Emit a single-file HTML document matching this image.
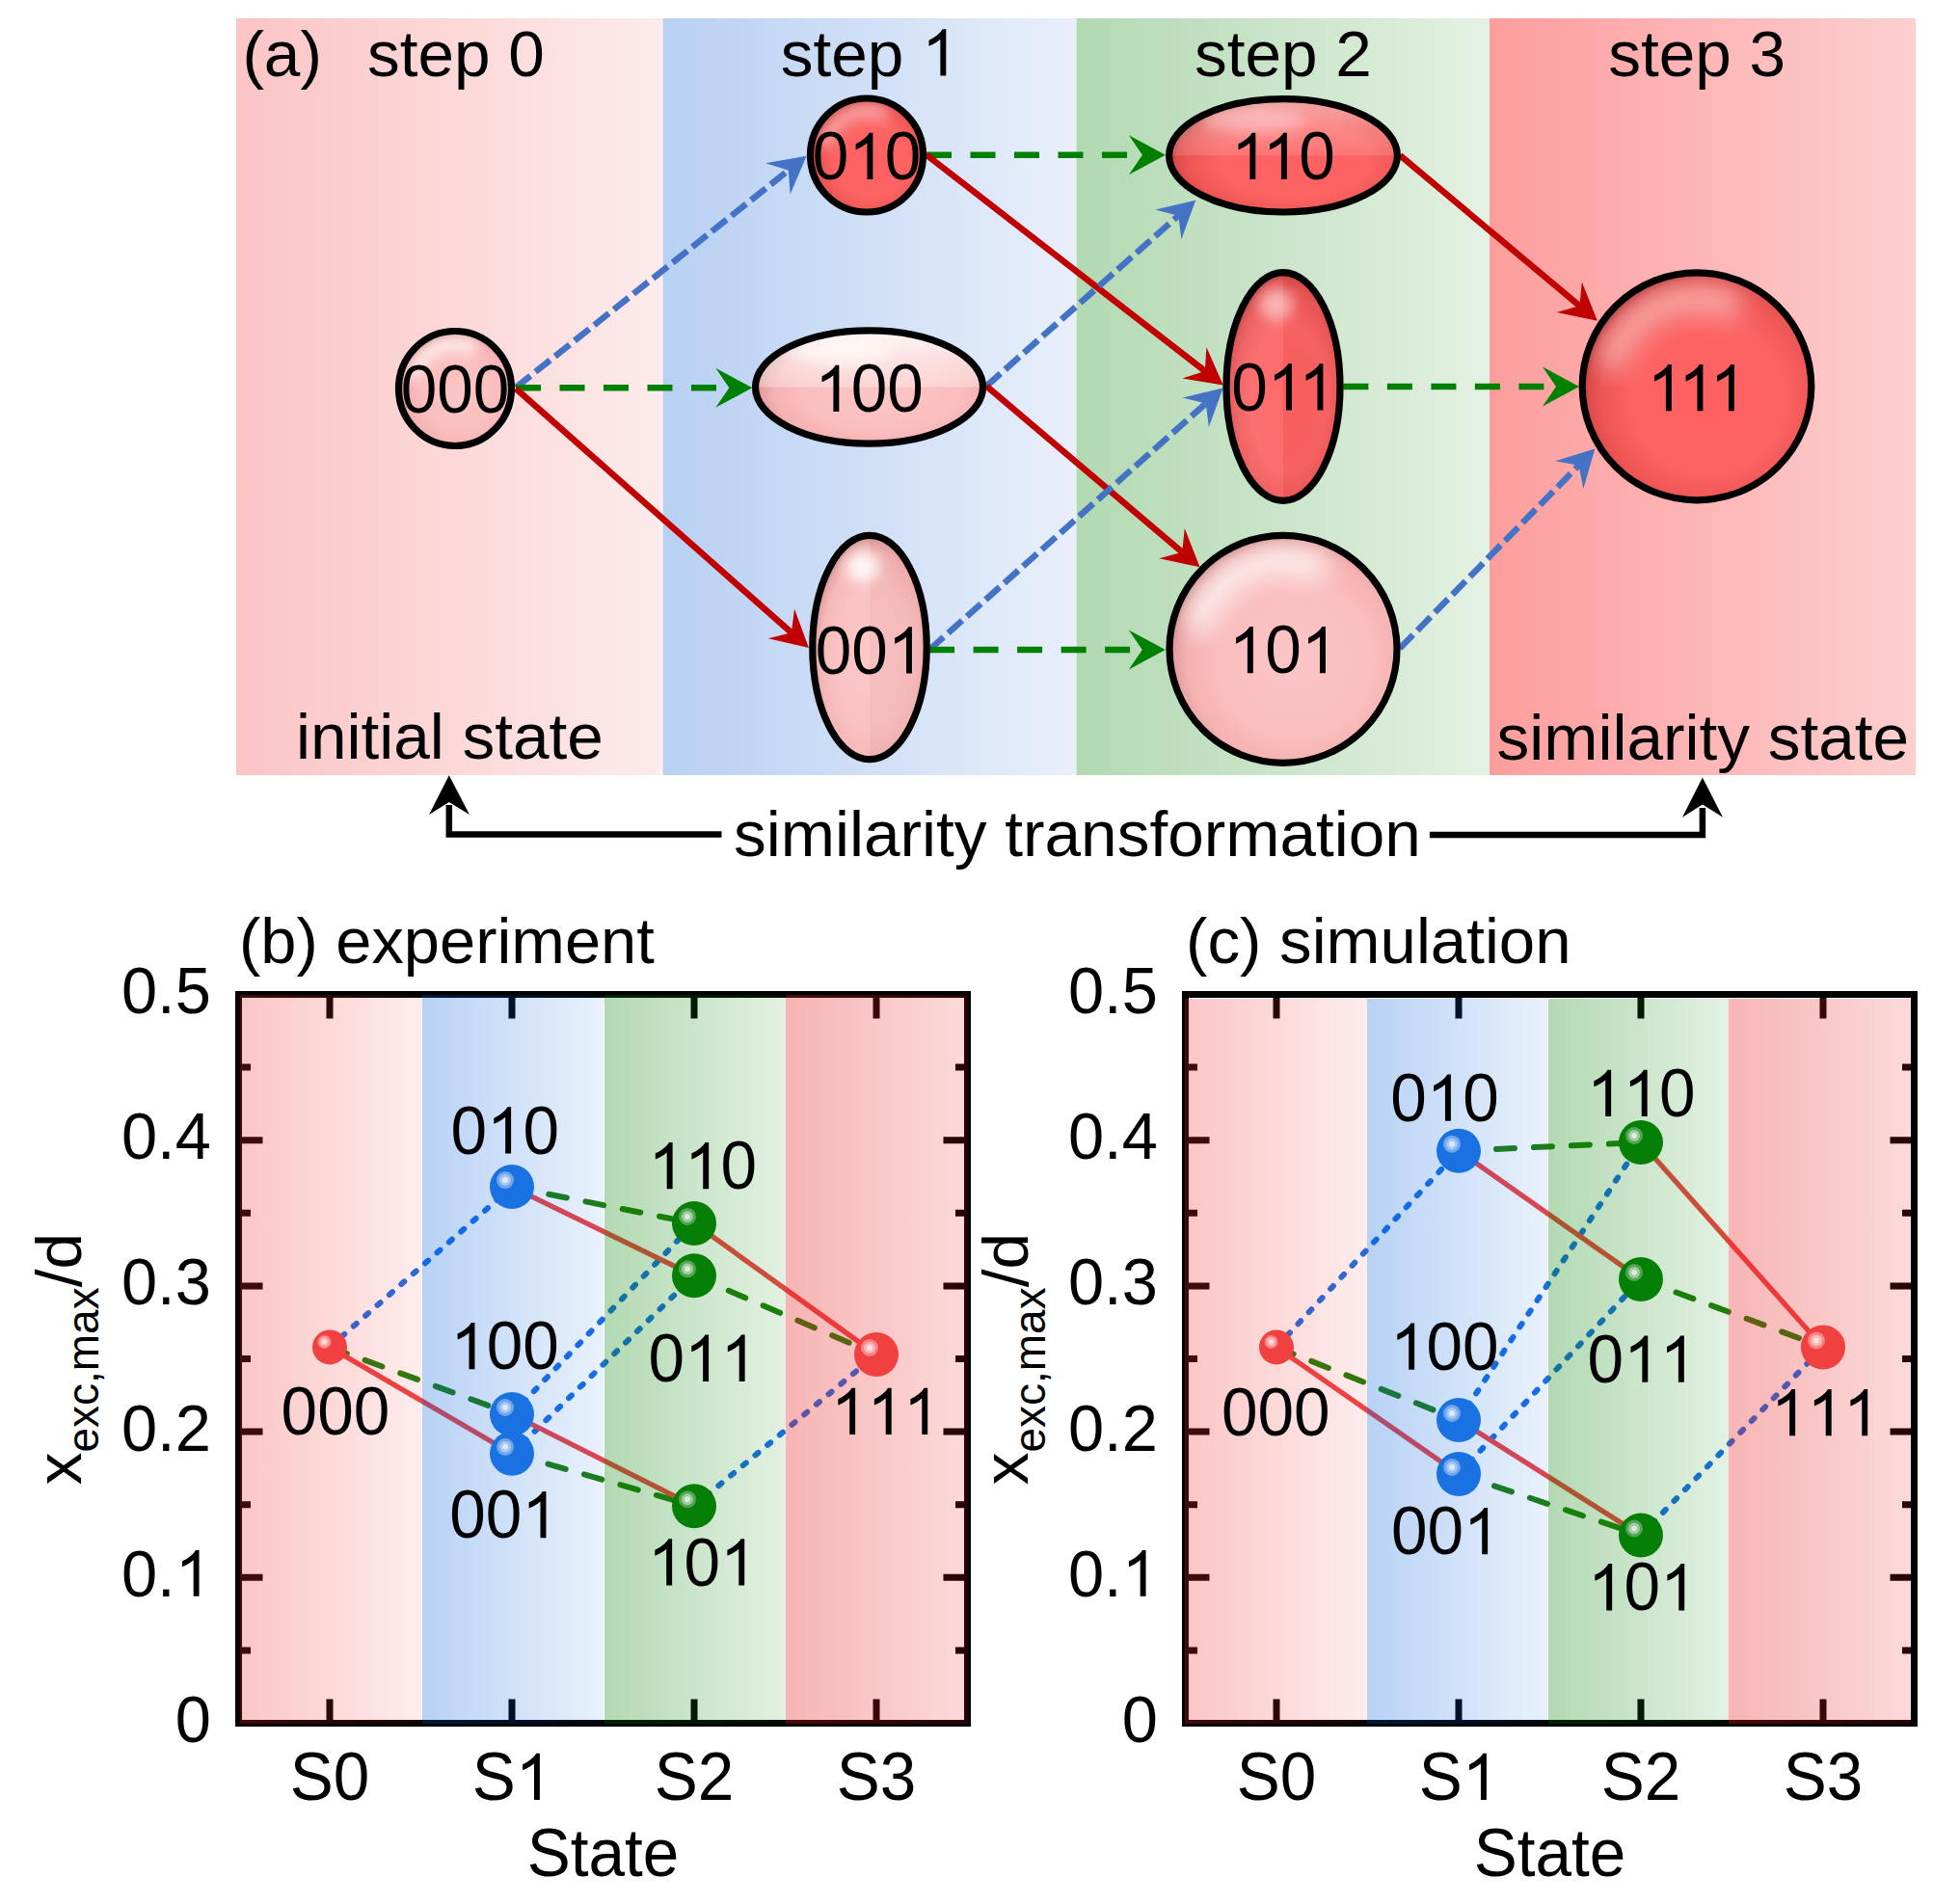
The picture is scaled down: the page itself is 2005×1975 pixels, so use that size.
<!DOCTYPE html><html><head><meta charset="utf-8"><style>html,body{margin:0;padding:0;background:#fff;}svg{display:block}text{font-family:"Liberation Sans",sans-serif;}</style></head><body>
<svg xmlns="http://www.w3.org/2000/svg" width="2005" height="1975" viewBox="0 0 2005 1975">
<rect width="2005" height="1975" fill="#fff"/>
<defs>
<linearGradient id="tb0" x1="0" y1="0" x2="1" y2="0"><stop offset="0" stop-color="#fbc4c5"/><stop offset="1" stop-color="#fdebeb"/></linearGradient>
<linearGradient id="tb1" x1="0" y1="0" x2="1" y2="0"><stop offset="0" stop-color="#b8d0f2"/><stop offset="1" stop-color="#e9effb"/></linearGradient>
<linearGradient id="tb2" x1="0" y1="0" x2="1" y2="0"><stop offset="0" stop-color="#b2d9b2"/><stop offset="1" stop-color="#e4f1e3"/></linearGradient>
<linearGradient id="tb3" x1="0" y1="0" x2="1" y2="0"><stop offset="0" stop-color="#fd9d9d"/><stop offset="1" stop-color="#fdcfcf"/></linearGradient>
<linearGradient id="cb0" x1="0" y1="0" x2="1" y2="0"><stop offset="0" stop-color="#f02a2a" stop-opacity="0.27"/><stop offset="1" stop-color="#f02a2a" stop-opacity="0.085"/></linearGradient>
<linearGradient id="cb1" x1="0" y1="0" x2="1" y2="0"><stop offset="0" stop-color="#005edb" stop-opacity="0.28"/><stop offset="1" stop-color="#005edb" stop-opacity="0.086"/></linearGradient>
<linearGradient id="cb2" x1="0" y1="0" x2="1" y2="0"><stop offset="0" stop-color="#008000" stop-opacity="0.3"/><stop offset="1" stop-color="#008000" stop-opacity="0.11"/></linearGradient>
<linearGradient id="cb3" x1="0" y1="0" x2="1" y2="0"><stop offset="0" stop-color="#e81e1e" stop-opacity="0.33"/><stop offset="1" stop-color="#e81e1e" stop-opacity="0.165"/></linearGradient>
<radialGradient id="gl" cx="0.55" cy="0.55" r="0.55"><stop offset="0" stop-color="#fcc6c6"/><stop offset="0.6" stop-color="#fbbebe"/><stop offset="0.85" stop-color="#f5b2b2"/><stop offset="0.95" stop-color="#e6a0a0"/><stop offset="1" stop-color="#d08a8a"/></radialGradient>
<radialGradient id="gd" cx="0.55" cy="0.55" r="0.55"><stop offset="0" stop-color="#ff6060"/><stop offset="0.6" stop-color="#fc6464"/><stop offset="0.85" stop-color="#ee5656"/><stop offset="0.95" stop-color="#dc4a4a"/><stop offset="1" stop-color="#b83a3a"/></radialGradient>
<linearGradient id="hlL" x1="0" y1="0" x2="0" y2="1"><stop offset="0" stop-color="#fff" stop-opacity="0.95"/><stop offset="0.5" stop-color="#fff" stop-opacity="0.55"/><stop offset="1" stop-color="#fff" stop-opacity="0.3"/></linearGradient>
<linearGradient id="hlD" x1="0" y1="0" x2="0" y2="1"><stop offset="0" stop-color="#ffe0e0" stop-opacity="0.6"/><stop offset="0.5" stop-color="#fff" stop-opacity="0.25"/><stop offset="1" stop-color="#fff" stop-opacity="0.12"/></linearGradient>
<linearGradient id="vl" x1="0" y1="0" x2="1" y2="0"><stop offset="0" stop-color="#fff" stop-opacity="0.10"/><stop offset="1" stop-color="#fff" stop-opacity="0.06"/></linearGradient>
<filter id="blur8" x="-50%" y="-50%" width="200%" height="200%"><feGaussianBlur stdDeviation="7"/></filter>
<filter id="blur12" x="-50%" y="-50%" width="200%" height="200%"><feGaussianBlur stdDeviation="13"/></filter>
<filter id="blur4" x="-50%" y="-50%" width="200%" height="200%"><feGaussianBlur stdDeviation="4"/></filter>
</defs>
<rect x="245" y="19" width="441.5" height="785" fill="url(#tb0)"/>
<rect x="687.5" y="19" width="428.5" height="785" fill="url(#tb1)"/>
<rect x="1116.5" y="19" width="428.5" height="785" fill="url(#tb2)"/>
<rect x="1545" y="19" width="442" height="785" fill="url(#tb3)"/>
<line x1="535.0" y1="402.0" x2="817.8" y2="176.7" stroke="#4472c4" stroke-width="6.5" stroke-dasharray="19.5 6.5"/>
<path d="M0 0L-38 -20.5L-24 0L-38 20.5Z" fill="#4472c4" transform="translate(836.6 161.7) rotate(-38.55)"/>
<line x1="535.0" y1="402.3" x2="756.3" y2="402.3" stroke="#008000" stroke-width="6.5" stroke-dasharray="26 19.5"/>
<path d="M0 0L-38 -20.5L-24 0L-38 20.5Z" fill="#008000" transform="translate(780.3 402.3) rotate(0.00)"/>
<line x1="535.0" y1="403.0" x2="820.9" y2="656.2" stroke="#c00000" stroke-width="6.5"/>
<path d="M0 0L-38 -20.5L-24 0L-38 20.5Z" fill="#c00000" transform="translate(838.9 672.1) rotate(41.52)"/>
<line x1="961.0" y1="160.7" x2="1184.9" y2="160.7" stroke="#008000" stroke-width="6.5" stroke-dasharray="26 19.5"/>
<path d="M0 0L-38 -20.5L-24 0L-38 20.5Z" fill="#008000" transform="translate(1208.9 160.7) rotate(0.00)"/>
<line x1="961.0" y1="160.7" x2="1249.8" y2="384.9" stroke="#c00000" stroke-width="6.5"/>
<path d="M0 0L-38 -20.5L-24 0L-38 20.5Z" fill="#c00000" transform="translate(1268.8 399.6) rotate(37.82)"/>
<line x1="1023.2" y1="400.5" x2="1222.3" y2="223.6" stroke="#4472c4" stroke-width="6.5" stroke-dasharray="19.5 6.5"/>
<path d="M0 0L-38 -20.5L-24 0L-38 20.5Z" fill="#4472c4" transform="translate(1240.2 207.7) rotate(-41.62)"/>
<line x1="1023.2" y1="400.5" x2="1226.2" y2="572.7" stroke="#c00000" stroke-width="6.5"/>
<path d="M0 0L-38 -20.5L-24 0L-38 20.5Z" fill="#c00000" transform="translate(1244.5 588.2) rotate(40.30)"/>
<line x1="964.1" y1="673.9" x2="1250.7" y2="418.5" stroke="#4472c4" stroke-width="6.5" stroke-dasharray="19.5 6.5"/>
<path d="M0 0L-38 -20.5L-24 0L-38 20.5Z" fill="#4472c4" transform="translate(1268.6 402.5) rotate(-41.71)"/>
<line x1="964.1" y1="673.9" x2="1184.8" y2="673.9" stroke="#008000" stroke-width="6.5" stroke-dasharray="26 19.5"/>
<path d="M0 0L-38 -20.5L-24 0L-38 20.5Z" fill="#008000" transform="translate(1208.8 673.9) rotate(0.00)"/>
<line x1="1452.3" y1="161.3" x2="1638.4" y2="317.3" stroke="#c00000" stroke-width="6.5"/>
<path d="M0 0L-38 -20.5L-24 0L-38 20.5Z" fill="#c00000" transform="translate(1656.8 332.7) rotate(39.97)"/>
<line x1="1393.4" y1="401.0" x2="1614.0" y2="401.0" stroke="#008000" stroke-width="6.5" stroke-dasharray="26 19.5"/>
<path d="M0 0L-38 -20.5L-24 0L-38 20.5Z" fill="#008000" transform="translate(1638.0 401.0) rotate(0.00)"/>
<line x1="1452.0" y1="672.5" x2="1637.5" y2="482.7" stroke="#4472c4" stroke-width="6.5" stroke-dasharray="19.5 6.5"/>
<path d="M0 0L-38 -20.5L-24 0L-38 20.5Z" fill="#4472c4" transform="translate(1654.3 465.5) rotate(-45.66)"/>
<clipPath id="ec1"><ellipse cx="472" cy="403" rx="58.5" ry="59.5"/></clipPath>
<ellipse cx="472" cy="403" rx="58.5" ry="59.5" fill="url(#gl)"/>
<g clip-path="url(#ec1)">
<path d="M429.1 387.1 A45.6 46.4 0 0 1 487.6 359.4" fill="none" stroke="#ffffff" stroke-width="15.2" stroke-linecap="round" opacity="0.765" filter="url(#blur8)"/>
</g>
<ellipse cx="472" cy="403" rx="58.5" ry="59.5" fill="none" stroke="#000" stroke-width="7.2"/>
<clipPath id="ec2"><ellipse cx="899" cy="161" rx="58.5" ry="59"/></clipPath>
<ellipse cx="899" cy="161" rx="58.5" ry="59" fill="url(#gd)"/>
<g clip-path="url(#ec2)">
<path d="M856.1 145.3 A45.6 46.0 0 0 1 914.6 117.8" fill="none" stroke="#ffe6e6" stroke-width="15.2" stroke-linecap="round" opacity="0.54" filter="url(#blur8)"/>
</g>
<ellipse cx="899" cy="161" rx="58.5" ry="59" fill="none" stroke="#000" stroke-width="7.2"/>
<clipPath id="ec3"><ellipse cx="901.5" cy="401.5" rx="118" ry="58.7"/></clipPath>
<ellipse cx="901.5" cy="401.5" rx="118" ry="58.7" fill="url(#gl)"/>
<g clip-path="url(#ec3)">
<rect x="783.5" y="342.8" width="236" height="58.7" fill="url(#hlL)"/>
<ellipse cx="872" cy="365.106" rx="53.1" ry="12.914" fill="#ffffff" opacity="0.595" filter="url(#blur8)"/>
</g>
<ellipse cx="901.5" cy="401.5" rx="118" ry="58.7" fill="none" stroke="#000" stroke-width="7.2"/>
<clipPath id="ec4"><ellipse cx="902" cy="671.5" rx="59.2" ry="116.2"/></clipPath>
<ellipse cx="902" cy="671.5" rx="59.2" ry="116.2" fill="url(#gl)"/>
<g clip-path="url(#ec4)">
<rect x="842.8" y="555.3" width="59.2" height="232.4" fill="url(#vl)"/>
<rect x="902" y="555.3" width="59.2" height="232.4" fill="#000" opacity="0.025"/>
<ellipse cx="894.896" cy="587.836" rx="17.76" ry="16.268" fill="#ffffff" opacity="0.85" filter="url(#blur8)"/>
</g>
<ellipse cx="902" cy="671.5" rx="59.2" ry="116.2" fill="none" stroke="#000" stroke-width="7.2"/>
<clipPath id="ec5"><ellipse cx="1331" cy="161.3" rx="118.4" ry="58.7"/></clipPath>
<ellipse cx="1331" cy="161.3" rx="118.4" ry="58.7" fill="url(#gd)"/>
<g clip-path="url(#ec5)">
<rect x="1212.6" y="102.6" width="236.8" height="58.7" fill="url(#hlD)"/>
<ellipse cx="1301.4" cy="124.906" rx="53.28" ry="12.914" fill="#ffe6e6" opacity="0.42" filter="url(#blur8)"/>
</g>
<ellipse cx="1331" cy="161.3" rx="118.4" ry="58.7" fill="none" stroke="#000" stroke-width="7.2"/>
<clipPath id="ec6"><ellipse cx="1331" cy="401" rx="59" ry="118.3"/></clipPath>
<ellipse cx="1331" cy="401" rx="59" ry="118.3" fill="url(#gd)"/>
<g clip-path="url(#ec6)">
<rect x="1272" y="282.7" width="59" height="236.6" fill="url(#vl)"/>
<rect x="1331" y="282.7" width="59" height="236.6" fill="#000" opacity="0.025"/>
<ellipse cx="1323.92" cy="315.824" rx="17.7" ry="16.562" fill="#ffe6e6" opacity="0.6" filter="url(#blur8)"/>
</g>
<ellipse cx="1331" cy="401" rx="59" ry="118.3" fill="none" stroke="#000" stroke-width="7.2"/>
<clipPath id="ec7"><ellipse cx="1331" cy="673.3" rx="118" ry="118"/></clipPath>
<ellipse cx="1331" cy="673.3" rx="118" ry="118" fill="url(#gl)"/>
<g clip-path="url(#ec7)">
<path d="M1244.5 641.8 A92.0 92.0 0 0 1 1362.5 586.8" fill="none" stroke="#ffffff" stroke-width="30.7" stroke-linecap="round" opacity="0.765" filter="url(#blur12)"/>
</g>
<ellipse cx="1331" cy="673.3" rx="118" ry="118" fill="none" stroke="#000" stroke-width="7.2"/>
<clipPath id="ec8"><ellipse cx="1760" cy="400.8" rx="118.8" ry="118"/></clipPath>
<ellipse cx="1760" cy="400.8" rx="118.8" ry="118" fill="url(#gd)"/>
<g clip-path="url(#ec8)">
<path d="M1672.9 369.3 A92.7 92.0 0 0 1 1791.7 314.3" fill="none" stroke="#ffe6e6" stroke-width="30.9" stroke-linecap="round" opacity="0.54" filter="url(#blur12)"/>
</g>
<ellipse cx="1760" cy="400.8" rx="118.8" ry="118" fill="none" stroke="#000" stroke-width="7.2"/>
<g transform="translate(415.69 428.00)"><text x="0.00 37.54 75.08" y="0" font-size="67.50" fill="#000" transform="scale(1 1.035)">000</text></g>
<g transform="translate(842.69 186.00)"><text x="0.00 37.54 75.08" y="0" font-size="67.50" fill="#000" transform="scale(1 1.035)">0 0</text><path d="M763 0L583 0L583 1147C540 1106 483 1064 413 1023C343 982 280 951 223 930L223 1118C324 1163 412 1217 489 1282C566 1347 620 1408 651 1466L763 1466Z" transform="translate(37.54 0) scale(0.03296 -0.03296)" fill="#000"/></g>
<g transform="translate(845.19 427.00)"><text x="0.00 37.54 75.08" y="0" font-size="67.50" fill="#000" transform="scale(1 1.035)"> 00</text><path d="M763 0L583 0L583 1147C540 1106 483 1064 413 1023C343 982 280 951 223 930L223 1118C324 1163 412 1217 489 1282C566 1347 620 1408 651 1466L763 1466Z" transform="translate(0.00 0) scale(0.03296 -0.03296)" fill="#000"/></g>
<g transform="translate(845.69 698.50)"><text x="0.00 37.54 75.08" y="0" font-size="67.50" fill="#000" transform="scale(1 1.035)">00 </text><path d="M763 0L583 0L583 1147C540 1106 483 1064 413 1023C343 982 280 951 223 930L223 1118C324 1163 412 1217 489 1282C566 1347 620 1408 651 1466L763 1466Z" transform="translate(75.08 0) scale(0.03296 -0.03296)" fill="#000"/></g>
<g transform="translate(1277.19 186.00)"><text x="0.00 32.53 70.07" y="0" font-size="67.50" fill="#000" transform="scale(1 1.035)">  0</text><path d="M763 0L583 0L583 1147C540 1106 483 1064 413 1023C343 982 280 951 223 930L223 1118C324 1163 412 1217 489 1282C566 1347 620 1408 651 1466L763 1466Z" transform="translate(0.00 0) scale(0.03296 -0.03296)" fill="#000"/><path d="M763 0L583 0L583 1147C540 1106 483 1064 413 1023C343 982 280 951 223 930L223 1118C324 1163 412 1217 489 1282C566 1347 620 1408 651 1466L763 1466Z" transform="translate(32.53 0) scale(0.03296 -0.03296)" fill="#000"/></g>
<g transform="translate(1277.19 425.50)"><text x="0.00 37.54 70.07" y="0" font-size="67.50" fill="#000" transform="scale(1 1.035)">0  </text><path d="M763 0L583 0L583 1147C540 1106 483 1064 413 1023C343 982 280 951 223 930L223 1118C324 1163 412 1217 489 1282C566 1347 620 1408 651 1466L763 1466Z" transform="translate(37.54 0) scale(0.03296 -0.03296)" fill="#000"/><path d="M763 0L583 0L583 1147C540 1106 483 1064 413 1023C343 982 280 951 223 930L223 1118C324 1163 412 1217 489 1282C566 1347 620 1408 651 1466L763 1466Z" transform="translate(70.07 0) scale(0.03296 -0.03296)" fill="#000"/></g>
<g transform="translate(1274.69 698.30)"><text x="0.00 37.54 75.08" y="0" font-size="67.50" fill="#000" transform="scale(1 1.035)"> 0 </text><path d="M763 0L583 0L583 1147C540 1106 483 1064 413 1023C343 982 280 951 223 930L223 1118C324 1163 412 1217 489 1282C566 1347 620 1408 651 1466L763 1466Z" transform="translate(0.00 0) scale(0.03296 -0.03296)" fill="#000"/><path d="M763 0L583 0L583 1147C540 1106 483 1064 413 1023C343 982 280 951 223 930L223 1118C324 1163 412 1217 489 1282C566 1347 620 1408 651 1466L763 1466Z" transform="translate(75.08 0) scale(0.03296 -0.03296)" fill="#000"/></g>
<g transform="translate(1708.70 426.30)"><text x="0.00 32.53 65.06" y="0" font-size="67.50" fill="#000" transform="scale(1 1.035)">   </text><path d="M763 0L583 0L583 1147C540 1106 483 1064 413 1023C343 982 280 951 223 930L223 1118C324 1163 412 1217 489 1282C566 1347 620 1408 651 1466L763 1466Z" transform="translate(0.00 0) scale(0.03296 -0.03296)" fill="#000"/><path d="M763 0L583 0L583 1147C540 1106 483 1064 413 1023C343 982 280 951 223 930L223 1118C324 1163 412 1217 489 1282C566 1347 620 1408 651 1466L763 1466Z" transform="translate(32.53 0) scale(0.03296 -0.03296)" fill="#000"/><path d="M763 0L583 0L583 1147C540 1106 483 1064 413 1023C343 982 280 951 223 930L223 1118C324 1163 412 1217 489 1282C566 1347 620 1408 651 1466L763 1466Z" transform="translate(65.06 0) scale(0.03296 -0.03296)" fill="#000"/></g>
<g transform="translate(251.40 78.50)"><text x="0.00 22.48 60.02" y="0" font-size="67.50" fill="#000" transform="scale(1 1.000)">(a)</text></g>
<g transform="translate(380.90 78.50)"><text x="0.00 33.75 52.50 90.04 127.58 146.34" y="0" font-size="67.50" fill="#000" transform="scale(1 1.000)">step 0</text></g>
<g transform="translate(809.80 78.50)"><text x="0.00 33.75 52.50 90.04 127.58 146.34" y="0" font-size="67.50" fill="#000" transform="scale(1 1.000)">step  </text><path d="M763 0L583 0L583 1147C540 1106 483 1064 413 1023C343 982 280 951 223 930L223 1118C324 1163 412 1217 489 1282C566 1347 620 1408 651 1466L763 1466Z" transform="translate(146.34 0) scale(0.03296 -0.03296)" fill="#000"/></g>
<g transform="translate(1239.00 78.50)"><text x="0.00 33.75 52.50 90.04 127.58 146.34" y="0" font-size="67.50" fill="#000" transform="scale(1 1.000)">step 2</text></g>
<g transform="translate(1668.20 78.50)"><text x="0.00 33.75 52.50 90.04 127.58 146.34" y="0" font-size="67.50" fill="#000" transform="scale(1 1.000)">step 3</text></g>
<g transform="translate(306.90 787.20)"><text x="0.00 15.00 52.54 67.53 86.29 101.28 138.82 153.82 172.57 206.32 225.08 262.62 281.37" y="0" font-size="67.50" fill="#000" transform="scale(1 1.000)">initial state</text></g>
<g transform="translate(1552.50 788.00)"><text x="0.00 33.75 48.75 104.98 119.97 134.97 172.51 194.99 209.98 228.74 262.49 281.24 314.99 333.74 371.28 390.04" y="0" font-size="67.50" fill="#000" transform="scale(1 1.000)">similarity state</text></g>
<g transform="translate(761.10 888.40)"><text x="0.00 33.75 48.75 104.98 119.97 134.97 172.51 194.99 209.98 228.74 262.49 281.24 299.99 322.47 360.01 397.55 431.30 450.06 487.60 510.08 566.30 603.85 622.60 637.60 675.14" y="0" font-size="67.50" fill="#000" transform="scale(1 1.000)">similarity transformation</text></g>
<path d="M748.5 865.5 L465.8 865.5 L465.8 835" fill="none" stroke="#000" stroke-width="6.5"/>
<path d="M465.8 804.3 L445 845 L465.8 832 L487 845 Z" fill="#000"/>
<path d="M1482.9 866 L1765.9 866 L1765.9 838" fill="none" stroke="#000" stroke-width="6.5"/>
<path d="M1765.9 806.6 L1745 847.7 L1765.9 834.5 L1787 847.7 Z" fill="#000"/>
<rect x="247.5" y="1031.5" width="756" height="756" fill="none" stroke="#000" stroke-width="7"/>
<path d="M342 1031.5 V1056.5 M342 1787.5 V1762.5 M531 1031.5 V1056.5 M531 1787.5 V1762.5 M720 1031.5 V1056.5 M720 1787.5 V1762.5 M909 1031.5 V1056.5 M909 1787.5 V1762.5 M247.5 1711.9 H260 M1003.5 1711.9 H991 M247.5 1636.3 H272.5 M1003.5 1636.3 H978.5 M247.5 1560.7 H260 M1003.5 1560.7 H991 M247.5 1485.1 H272.5 M1003.5 1485.1 H978.5 M247.5 1409.5 H260 M1003.5 1409.5 H991 M247.5 1333.9 H272.5 M1003.5 1333.9 H978.5 M247.5 1258.3 H260 M1003.5 1258.3 H991 M247.5 1182.7 H272.5 M1003.5 1182.7 H978.5 M247.5 1107.1 H260 M1003.5 1107.1 H991" stroke="#000" stroke-width="7" fill="none"/>
<line x1="342.0" y1="1397.4" x2="531.0" y2="1231.1" stroke="#1a6ee6" stroke-width="6" stroke-linecap="round" stroke-dasharray="4 12.5"/>
<line x1="531.0" y1="1467.0" x2="720.0" y2="1268.9" stroke="#1a6ee6" stroke-width="6" stroke-linecap="round" stroke-dasharray="4 12.5"/>
<line x1="531.0" y1="1507.8" x2="720.0" y2="1323.3" stroke="#1a6ee6" stroke-width="6" stroke-linecap="round" stroke-dasharray="4 12.5"/>
<line x1="720.0" y1="1562.2" x2="909.0" y2="1405.0" stroke="#1a6ee6" stroke-width="6" stroke-linecap="round" stroke-dasharray="4 12.5"/>
<line x1="342.0" y1="1397.4" x2="531.0" y2="1467.0" stroke="#1f7f0a" stroke-width="6" stroke-linecap="round" stroke-dasharray="19 20"/>
<line x1="531.0" y1="1231.1" x2="720.0" y2="1268.9" stroke="#1f7f0a" stroke-width="6" stroke-linecap="round" stroke-dasharray="19 20"/>
<line x1="531.0" y1="1507.8" x2="720.0" y2="1562.2" stroke="#1f7f0a" stroke-width="6" stroke-linecap="round" stroke-dasharray="19 20"/>
<line x1="720.0" y1="1323.3" x2="909.0" y2="1405.0" stroke="#1f7f0a" stroke-width="6" stroke-linecap="round" stroke-dasharray="19 20"/>
<line x1="342.0" y1="1397.4" x2="531.0" y2="1507.8" stroke="#ee4444" stroke-width="5.3" stroke-linecap="butt"/>
<line x1="531.0" y1="1231.1" x2="720.0" y2="1323.3" stroke="#ee4444" stroke-width="5.3" stroke-linecap="butt"/>
<line x1="531.0" y1="1467.0" x2="720.0" y2="1562.2" stroke="#ee4444" stroke-width="5.3" stroke-linecap="butt"/>
<line x1="720.0" y1="1268.9" x2="909.0" y2="1405.0" stroke="#ee4444" stroke-width="5.3" stroke-linecap="butt"/>
<rect x="249" y="1032" width="189" height="756" fill="url(#cb0)"/>
<rect x="438" y="1032" width="188" height="756" fill="url(#cb1)"/>
<rect x="627" y="1032" width="188" height="756" fill="url(#cb2)"/>
<rect x="815" y="1032" width="189" height="756" fill="url(#cb3)"/>
<circle cx="342.0" cy="1397.4" r="18" fill="#f04040"/>
<circle cx="336.5" cy="1391.9" r="7.0" fill="#f58585"/><circle cx="336.5" cy="1391.9" r="4.7" fill="#f9b5b5"/><circle cx="336.5" cy="1391.9" r="2.3" fill="#fde0e0"/>
<circle cx="531.0" cy="1231.1" r="23" fill="#1a72e2"/>
<circle cx="524.0" cy="1224.1" r="9.0" fill="#70a6ec"/><circle cx="524.0" cy="1224.1" r="6.0" fill="#a6c6f2"/><circle cx="524.0" cy="1224.1" r="3.0" fill="#dde9f9"/>
<circle cx="531.0" cy="1467.0" r="23" fill="#1a72e2"/>
<circle cx="524.0" cy="1460.0" r="9.0" fill="#70a6ec"/><circle cx="524.0" cy="1460.0" r="6.0" fill="#a6c6f2"/><circle cx="524.0" cy="1460.0" r="3.0" fill="#dde9f9"/>
<circle cx="531.0" cy="1507.8" r="23" fill="#1a72e2"/>
<circle cx="524.0" cy="1500.8" r="9.0" fill="#70a6ec"/><circle cx="524.0" cy="1500.8" r="6.0" fill="#a6c6f2"/><circle cx="524.0" cy="1500.8" r="3.0" fill="#dde9f9"/>
<circle cx="720.0" cy="1268.9" r="23" fill="#067f06"/>
<circle cx="713.0" cy="1261.9" r="9.0" fill="#55a455"/><circle cx="713.0" cy="1261.9" r="6.0" fill="#9ccb9c"/><circle cx="713.0" cy="1261.9" r="3.0" fill="#d8ecd8"/>
<circle cx="720.0" cy="1323.3" r="23" fill="#067f06"/>
<circle cx="713.0" cy="1316.3" r="9.0" fill="#55a455"/><circle cx="713.0" cy="1316.3" r="6.0" fill="#9ccb9c"/><circle cx="713.0" cy="1316.3" r="3.0" fill="#d8ecd8"/>
<circle cx="720.0" cy="1562.2" r="23" fill="#067f06"/>
<circle cx="713.0" cy="1555.2" r="9.0" fill="#55a455"/><circle cx="713.0" cy="1555.2" r="6.0" fill="#9ccb9c"/><circle cx="713.0" cy="1555.2" r="3.0" fill="#d8ecd8"/>
<circle cx="909.0" cy="1405.0" r="23" fill="#f04040"/>
<circle cx="902.0" cy="1398.0" r="9.0" fill="#f58585"/><circle cx="902.0" cy="1398.0" r="6.0" fill="#f9b5b5"/><circle cx="902.0" cy="1398.0" r="3.0" fill="#fde0e0"/>
<g transform="translate(181.65 1806.90)"><text x="0.00" y="0" font-size="66.80" fill="#000" transform="scale(1 1.035)">0</text></g>
<g transform="translate(125.94 1655.70)"><text x="0.00 37.15 55.71" y="0" font-size="66.80" fill="#000" transform="scale(1 1.035)">0. </text><path d="M763 0L583 0L583 1147C540 1106 483 1064 413 1023C343 982 280 951 223 930L223 1118C324 1163 412 1217 489 1282C566 1347 620 1408 651 1466L763 1466Z" transform="translate(55.71 0) scale(0.03262 -0.03262)" fill="#000"/></g>
<g transform="translate(125.94 1504.50)"><text x="0.00 37.15 55.71" y="0" font-size="66.80" fill="#000" transform="scale(1 1.035)">0.2</text></g>
<g transform="translate(125.94 1353.30)"><text x="0.00 37.15 55.71" y="0" font-size="66.80" fill="#000" transform="scale(1 1.035)">0.3</text></g>
<g transform="translate(125.94 1202.10)"><text x="0.00 37.15 55.71" y="0" font-size="66.80" fill="#000" transform="scale(1 1.035)">0.4</text></g>
<g transform="translate(125.94 1050.90)"><text x="0.00 37.15 55.71" y="0" font-size="66.80" fill="#000" transform="scale(1 1.035)">0.5</text></g>
<g transform="translate(300.72 1867.00)"><text x="0.00 45.02" y="0" font-size="67.50" fill="#000" transform="scale(1 1.035)">S0</text></g>
<g transform="translate(489.72 1867.00)"><text x="0.00 45.02" y="0" font-size="67.50" fill="#000" transform="scale(1 1.035)">S </text><path d="M763 0L583 0L583 1147C540 1106 483 1064 413 1023C343 982 280 951 223 930L223 1118C324 1163 412 1217 489 1282C566 1347 620 1408 651 1466L763 1466Z" transform="translate(45.02 0) scale(0.03296 -0.03296)" fill="#000"/></g>
<g transform="translate(678.72 1867.00)"><text x="0.00 45.02" y="0" font-size="67.50" fill="#000" transform="scale(1 1.035)">S2</text></g>
<g transform="translate(867.72 1867.00)"><text x="0.00 45.02" y="0" font-size="67.50" fill="#000" transform="scale(1 1.035)">S3</text></g>
<g transform="translate(546.69 1946.00)"><text x="0.00 45.02 63.78 101.32 120.07" y="0" font-size="67.50" fill="#000" transform="scale(1 1.030)">State</text></g>
<g transform="translate(84 1539.5) rotate(-90)"><text x="-0.8" y="0" font-size="67.5">x<tspan font-size="46" dy="17.5">exc,max</tspan><tspan dy="-17.5">/d</tspan></text></g>
<g transform="translate(248.10 998.70)"><text x="0.00 22.25 59.40 81.64 100.20 137.35 170.75 207.90 245.05 267.30 282.14 337.79 374.94 412.09" y="0" font-size="66.80" fill="#000" transform="scale(1 1.000)">(b) experiment</text></g>
<rect x="1229.5" y="1031.5" width="756" height="756" fill="none" stroke="#000" stroke-width="7"/>
<path d="M1324 1031.5 V1056.5 M1324 1787.5 V1762.5 M1513 1031.5 V1056.5 M1513 1787.5 V1762.5 M1702 1031.5 V1056.5 M1702 1787.5 V1762.5 M1891 1031.5 V1056.5 M1891 1787.5 V1762.5 M1229.5 1711.9 H1242 M1985.5 1711.9 H1973 M1229.5 1636.3 H1254.5 M1985.5 1636.3 H1960.5 M1229.5 1560.7 H1242 M1985.5 1560.7 H1973 M1229.5 1485.1 H1254.5 M1985.5 1485.1 H1960.5 M1229.5 1409.5 H1242 M1985.5 1409.5 H1973 M1229.5 1333.9 H1254.5 M1985.5 1333.9 H1960.5 M1229.5 1258.3 H1242 M1985.5 1258.3 H1973 M1229.5 1182.7 H1254.5 M1985.5 1182.7 H1960.5 M1229.5 1107.1 H1242 M1985.5 1107.1 H1973" stroke="#000" stroke-width="7" fill="none"/>
<line x1="1324.0" y1="1397.4" x2="1513.0" y2="1193.7" stroke="#1a6ee6" stroke-width="6" stroke-linecap="round" stroke-dasharray="4 12.5"/>
<line x1="1513.0" y1="1473.0" x2="1702.0" y2="1185.0" stroke="#1a6ee6" stroke-width="6" stroke-linecap="round" stroke-dasharray="4 12.5"/>
<line x1="1513.0" y1="1528.9" x2="1702.0" y2="1326.9" stroke="#1a6ee6" stroke-width="6" stroke-linecap="round" stroke-dasharray="4 12.5"/>
<line x1="1702.0" y1="1592.5" x2="1891.0" y2="1397.4" stroke="#1a6ee6" stroke-width="6" stroke-linecap="round" stroke-dasharray="4 12.5"/>
<line x1="1324.0" y1="1397.4" x2="1513.0" y2="1473.0" stroke="#1f7f0a" stroke-width="6" stroke-linecap="round" stroke-dasharray="19 20"/>
<line x1="1513.0" y1="1193.7" x2="1702.0" y2="1185.0" stroke="#1f7f0a" stroke-width="6" stroke-linecap="round" stroke-dasharray="19 20"/>
<line x1="1513.0" y1="1528.9" x2="1702.0" y2="1592.5" stroke="#1f7f0a" stroke-width="6" stroke-linecap="round" stroke-dasharray="19 20"/>
<line x1="1702.0" y1="1326.9" x2="1891.0" y2="1397.4" stroke="#1f7f0a" stroke-width="6" stroke-linecap="round" stroke-dasharray="19 20"/>
<line x1="1324.0" y1="1397.4" x2="1513.0" y2="1528.9" stroke="#ee4444" stroke-width="5.3" stroke-linecap="butt"/>
<line x1="1513.0" y1="1193.7" x2="1702.0" y2="1326.9" stroke="#ee4444" stroke-width="5.3" stroke-linecap="butt"/>
<line x1="1513.0" y1="1473.0" x2="1702.0" y2="1592.5" stroke="#ee4444" stroke-width="5.3" stroke-linecap="butt"/>
<line x1="1702.0" y1="1185.0" x2="1891.0" y2="1397.4" stroke="#ee4444" stroke-width="5.3" stroke-linecap="butt"/>
<rect x="1229" y="1036" width="189" height="752" fill="url(#cb0)"/>
<rect x="1418" y="1036" width="187" height="752" fill="url(#cb1)"/>
<rect x="1606" y="1036" width="187" height="752" fill="url(#cb2)"/>
<rect x="1793" y="1036" width="189" height="752" fill="url(#cb3)"/>
<circle cx="1324.0" cy="1397.4" r="18" fill="#f04040"/>
<circle cx="1318.5" cy="1391.9" r="7.0" fill="#f58585"/><circle cx="1318.5" cy="1391.9" r="4.7" fill="#f9b5b5"/><circle cx="1318.5" cy="1391.9" r="2.3" fill="#fde0e0"/>
<circle cx="1513.0" cy="1193.7" r="23" fill="#1a72e2"/>
<circle cx="1506.0" cy="1186.7" r="9.0" fill="#70a6ec"/><circle cx="1506.0" cy="1186.7" r="6.0" fill="#a6c6f2"/><circle cx="1506.0" cy="1186.7" r="3.0" fill="#dde9f9"/>
<circle cx="1513.0" cy="1473.0" r="23" fill="#1a72e2"/>
<circle cx="1506.0" cy="1466.0" r="9.0" fill="#70a6ec"/><circle cx="1506.0" cy="1466.0" r="6.0" fill="#a6c6f2"/><circle cx="1506.0" cy="1466.0" r="3.0" fill="#dde9f9"/>
<circle cx="1513.0" cy="1528.9" r="23" fill="#1a72e2"/>
<circle cx="1506.0" cy="1521.9" r="9.0" fill="#70a6ec"/><circle cx="1506.0" cy="1521.9" r="6.0" fill="#a6c6f2"/><circle cx="1506.0" cy="1521.9" r="3.0" fill="#dde9f9"/>
<circle cx="1702.0" cy="1185.0" r="23" fill="#067f06"/>
<circle cx="1695.0" cy="1178.0" r="9.0" fill="#55a455"/><circle cx="1695.0" cy="1178.0" r="6.0" fill="#9ccb9c"/><circle cx="1695.0" cy="1178.0" r="3.0" fill="#d8ecd8"/>
<circle cx="1702.0" cy="1326.9" r="23" fill="#067f06"/>
<circle cx="1695.0" cy="1319.9" r="9.0" fill="#55a455"/><circle cx="1695.0" cy="1319.9" r="6.0" fill="#9ccb9c"/><circle cx="1695.0" cy="1319.9" r="3.0" fill="#d8ecd8"/>
<circle cx="1702.0" cy="1592.5" r="23" fill="#067f06"/>
<circle cx="1695.0" cy="1585.5" r="9.0" fill="#55a455"/><circle cx="1695.0" cy="1585.5" r="6.0" fill="#9ccb9c"/><circle cx="1695.0" cy="1585.5" r="3.0" fill="#d8ecd8"/>
<circle cx="1891.0" cy="1397.4" r="23" fill="#f04040"/>
<circle cx="1884.0" cy="1390.4" r="9.0" fill="#f58585"/><circle cx="1884.0" cy="1390.4" r="6.0" fill="#f9b5b5"/><circle cx="1884.0" cy="1390.4" r="3.0" fill="#fde0e0"/>
<g transform="translate(1163.65 1806.90)"><text x="0.00" y="0" font-size="66.80" fill="#000" transform="scale(1 1.035)">0</text></g>
<g transform="translate(1107.94 1655.70)"><text x="0.00 37.15 55.71" y="0" font-size="66.80" fill="#000" transform="scale(1 1.035)">0. </text><path d="M763 0L583 0L583 1147C540 1106 483 1064 413 1023C343 982 280 951 223 930L223 1118C324 1163 412 1217 489 1282C566 1347 620 1408 651 1466L763 1466Z" transform="translate(55.71 0) scale(0.03262 -0.03262)" fill="#000"/></g>
<g transform="translate(1107.94 1504.50)"><text x="0.00 37.15 55.71" y="0" font-size="66.80" fill="#000" transform="scale(1 1.035)">0.2</text></g>
<g transform="translate(1107.94 1353.30)"><text x="0.00 37.15 55.71" y="0" font-size="66.80" fill="#000" transform="scale(1 1.035)">0.3</text></g>
<g transform="translate(1107.94 1202.10)"><text x="0.00 37.15 55.71" y="0" font-size="66.80" fill="#000" transform="scale(1 1.035)">0.4</text></g>
<g transform="translate(1107.94 1050.90)"><text x="0.00 37.15 55.71" y="0" font-size="66.80" fill="#000" transform="scale(1 1.035)">0.5</text></g>
<g transform="translate(1282.72 1867.00)"><text x="0.00 45.02" y="0" font-size="67.50" fill="#000" transform="scale(1 1.035)">S0</text></g>
<g transform="translate(1471.72 1867.00)"><text x="0.00 45.02" y="0" font-size="67.50" fill="#000" transform="scale(1 1.035)">S </text><path d="M763 0L583 0L583 1147C540 1106 483 1064 413 1023C343 982 280 951 223 930L223 1118C324 1163 412 1217 489 1282C566 1347 620 1408 651 1466L763 1466Z" transform="translate(45.02 0) scale(0.03296 -0.03296)" fill="#000"/></g>
<g transform="translate(1660.72 1867.00)"><text x="0.00 45.02" y="0" font-size="67.50" fill="#000" transform="scale(1 1.035)">S2</text></g>
<g transform="translate(1849.72 1867.00)"><text x="0.00 45.02" y="0" font-size="67.50" fill="#000" transform="scale(1 1.035)">S3</text></g>
<g transform="translate(1528.69 1946.00)"><text x="0.00 45.02 63.78 101.32 120.07" y="0" font-size="67.50" fill="#000" transform="scale(1 1.030)">State</text></g>
<g transform="translate(1066 1539.5) rotate(-90)"><text x="-0.8" y="0" font-size="67.5">x<tspan font-size="46" dy="17.5">exc,max</tspan><tspan dy="-17.5">/d</tspan></text></g>
<g transform="translate(1230.00 998.70)"><text x="0.00 22.38 55.98 78.36 97.03 130.63 145.56 201.54 238.91 253.84 291.21 309.88 324.81 362.19" y="0" font-size="67.20" fill="#000" transform="scale(1 1.000)">(c) simulation</text></g>
<g transform="translate(467.40 1196.50)"><text x="0.00 37.54 75.08" y="0" font-size="67.50" fill="#000" transform="scale(1 1.035)">0 0</text><path d="M763 0L583 0L583 1147C540 1106 483 1064 413 1023C343 982 280 951 223 930L223 1118C324 1163 412 1217 489 1282C566 1347 620 1408 651 1466L763 1466Z" transform="translate(37.54 0) scale(0.03296 -0.03296)" fill="#000"/></g>
<g transform="translate(672.48 1233.20)"><text x="0.00 37.54 75.08" y="0" font-size="67.50" fill="#000" transform="scale(1 1.035)">  0</text><path d="M763 0L583 0L583 1147C540 1106 483 1064 413 1023C343 982 280 951 223 930L223 1118C324 1163 412 1217 489 1282C566 1347 620 1408 651 1466L763 1466Z" transform="translate(0.00 0) scale(0.03296 -0.03296)" fill="#000"/><path d="M763 0L583 0L583 1147C540 1106 483 1064 413 1023C343 982 280 951 223 930L223 1118C324 1163 412 1217 489 1282C566 1347 620 1408 651 1466L763 1466Z" transform="translate(37.54 0) scale(0.03296 -0.03296)" fill="#000"/></g>
<g transform="translate(467.28 1420.20)"><text x="0.00 37.54 75.08" y="0" font-size="67.50" fill="#000" transform="scale(1 1.035)"> 00</text><path d="M763 0L583 0L583 1147C540 1106 483 1064 413 1023C343 982 280 951 223 930L223 1118C324 1163 412 1217 489 1282C566 1347 620 1408 651 1466L763 1466Z" transform="translate(0.00 0) scale(0.03296 -0.03296)" fill="#000"/></g>
<g transform="translate(672.40 1432.90)"><text x="0.00 37.54 75.08" y="0" font-size="67.50" fill="#000" transform="scale(1 1.035)">0  </text><path d="M763 0L583 0L583 1147C540 1106 483 1064 413 1023C343 982 280 951 223 930L223 1118C324 1163 412 1217 489 1282C566 1347 620 1408 651 1466L763 1466Z" transform="translate(37.54 0) scale(0.03296 -0.03296)" fill="#000"/><path d="M763 0L583 0L583 1147C540 1106 483 1064 413 1023C343 982 280 951 223 930L223 1118C324 1163 412 1217 489 1282C566 1347 620 1408 651 1466L763 1466Z" transform="translate(75.08 0) scale(0.03296 -0.03296)" fill="#000"/></g>
<g transform="translate(291.60 1488.00)"><text x="0.00 37.54 75.08" y="0" font-size="67.50" fill="#000" transform="scale(1 1.035)">000</text></g>
<g transform="translate(861.98 1488.10)"><text x="0.00 37.54 75.08" y="0" font-size="67.50" fill="#000" transform="scale(1 1.035)">   </text><path d="M763 0L583 0L583 1147C540 1106 483 1064 413 1023C343 982 280 951 223 930L223 1118C324 1163 412 1217 489 1282C566 1347 620 1408 651 1466L763 1466Z" transform="translate(0.00 0) scale(0.03296 -0.03296)" fill="#000"/><path d="M763 0L583 0L583 1147C540 1106 483 1064 413 1023C343 982 280 951 223 930L223 1118C324 1163 412 1217 489 1282C566 1347 620 1408 651 1466L763 1466Z" transform="translate(37.54 0) scale(0.03296 -0.03296)" fill="#000"/><path d="M763 0L583 0L583 1147C540 1106 483 1064 413 1023C343 982 280 951 223 930L223 1118C324 1163 412 1217 489 1282C566 1347 620 1408 651 1466L763 1466Z" transform="translate(75.08 0) scale(0.03296 -0.03296)" fill="#000"/></g>
<g transform="translate(466.20 1595.20)"><text x="0.00 37.54 75.08" y="0" font-size="67.50" fill="#000" transform="scale(1 1.035)">00 </text><path d="M763 0L583 0L583 1147C540 1106 483 1064 413 1023C343 982 280 951 223 930L223 1118C324 1163 412 1217 489 1282C566 1347 620 1408 651 1466L763 1466Z" transform="translate(75.08 0) scale(0.03296 -0.03296)" fill="#000"/></g>
<g transform="translate(671.98 1644.50)"><text x="0.00 37.54 75.08" y="0" font-size="67.50" fill="#000" transform="scale(1 1.035)"> 0 </text><path d="M763 0L583 0L583 1147C540 1106 483 1064 413 1023C343 982 280 951 223 930L223 1118C324 1163 412 1217 489 1282C566 1347 620 1408 651 1466L763 1466Z" transform="translate(0.00 0) scale(0.03296 -0.03296)" fill="#000"/><path d="M763 0L583 0L583 1147C540 1106 483 1064 413 1023C343 982 280 951 223 930L223 1118C324 1163 412 1217 489 1282C566 1347 620 1408 651 1466L763 1466Z" transform="translate(75.08 0) scale(0.03296 -0.03296)" fill="#000"/></g>
<g transform="translate(1442.20 1162.80)"><text x="0.00 37.54 75.08" y="0" font-size="67.50" fill="#000" transform="scale(1 1.035)">0 0</text><path d="M763 0L583 0L583 1147C540 1106 483 1064 413 1023C343 982 280 951 223 930L223 1118C324 1163 412 1217 489 1282C566 1347 620 1408 651 1466L763 1466Z" transform="translate(37.54 0) scale(0.03296 -0.03296)" fill="#000"/></g>
<g transform="translate(1645.98 1158.00)"><text x="0.00 37.54 75.08" y="0" font-size="67.50" fill="#000" transform="scale(1 1.035)">  0</text><path d="M763 0L583 0L583 1147C540 1106 483 1064 413 1023C343 982 280 951 223 930L223 1118C324 1163 412 1217 489 1282C566 1347 620 1408 651 1466L763 1466Z" transform="translate(0.00 0) scale(0.03296 -0.03296)" fill="#000"/><path d="M763 0L583 0L583 1147C540 1106 483 1064 413 1023C343 982 280 951 223 930L223 1118C324 1163 412 1217 489 1282C566 1347 620 1408 651 1466L763 1466Z" transform="translate(37.54 0) scale(0.03296 -0.03296)" fill="#000"/></g>
<g transform="translate(1441.98 1420.70)"><text x="0.00 37.54 75.08" y="0" font-size="67.50" fill="#000" transform="scale(1 1.035)"> 00</text><path d="M763 0L583 0L583 1147C540 1106 483 1064 413 1023C343 982 280 951 223 930L223 1118C324 1163 412 1217 489 1282C566 1347 620 1408 651 1466L763 1466Z" transform="translate(0.00 0) scale(0.03296 -0.03296)" fill="#000"/></g>
<g transform="translate(1646.60 1433.80)"><text x="0.00 37.54 75.08" y="0" font-size="67.50" fill="#000" transform="scale(1 1.035)">0  </text><path d="M763 0L583 0L583 1147C540 1106 483 1064 413 1023C343 982 280 951 223 930L223 1118C324 1163 412 1217 489 1282C566 1347 620 1408 651 1466L763 1466Z" transform="translate(37.54 0) scale(0.03296 -0.03296)" fill="#000"/><path d="M763 0L583 0L583 1147C540 1106 483 1064 413 1023C343 982 280 951 223 930L223 1118C324 1163 412 1217 489 1282C566 1347 620 1408 651 1466L763 1466Z" transform="translate(75.08 0) scale(0.03296 -0.03296)" fill="#000"/></g>
<g transform="translate(1266.90 1489.00)"><text x="0.00 37.54 75.08" y="0" font-size="67.50" fill="#000" transform="scale(1 1.035)">000</text></g>
<g transform="translate(1836.98 1489.20)"><text x="0.00 37.54 75.08" y="0" font-size="67.50" fill="#000" transform="scale(1 1.035)">   </text><path d="M763 0L583 0L583 1147C540 1106 483 1064 413 1023C343 982 280 951 223 930L223 1118C324 1163 412 1217 489 1282C566 1347 620 1408 651 1466L763 1466Z" transform="translate(0.00 0) scale(0.03296 -0.03296)" fill="#000"/><path d="M763 0L583 0L583 1147C540 1106 483 1064 413 1023C343 982 280 951 223 930L223 1118C324 1163 412 1217 489 1282C566 1347 620 1408 651 1466L763 1466Z" transform="translate(37.54 0) scale(0.03296 -0.03296)" fill="#000"/><path d="M763 0L583 0L583 1147C540 1106 483 1064 413 1023C343 982 280 951 223 930L223 1118C324 1163 412 1217 489 1282C566 1347 620 1408 651 1466L763 1466Z" transform="translate(75.08 0) scale(0.03296 -0.03296)" fill="#000"/></g>
<g transform="translate(1442.90 1612.30)"><text x="0.00 37.54 75.08" y="0" font-size="67.50" fill="#000" transform="scale(1 1.035)">00 </text><path d="M763 0L583 0L583 1147C540 1106 483 1064 413 1023C343 982 280 951 223 930L223 1118C324 1163 412 1217 489 1282C566 1347 620 1408 651 1466L763 1466Z" transform="translate(75.08 0) scale(0.03296 -0.03296)" fill="#000"/></g>
<g transform="translate(1646.98 1670.40)"><text x="0.00 37.54 75.08" y="0" font-size="67.50" fill="#000" transform="scale(1 1.035)"> 0 </text><path d="M763 0L583 0L583 1147C540 1106 483 1064 413 1023C343 982 280 951 223 930L223 1118C324 1163 412 1217 489 1282C566 1347 620 1408 651 1466L763 1466Z" transform="translate(0.00 0) scale(0.03296 -0.03296)" fill="#000"/><path d="M763 0L583 0L583 1147C540 1106 483 1064 413 1023C343 982 280 951 223 930L223 1118C324 1163 412 1217 489 1282C566 1347 620 1408 651 1466L763 1466Z" transform="translate(75.08 0) scale(0.03296 -0.03296)" fill="#000"/></g>
</svg></body></html>
